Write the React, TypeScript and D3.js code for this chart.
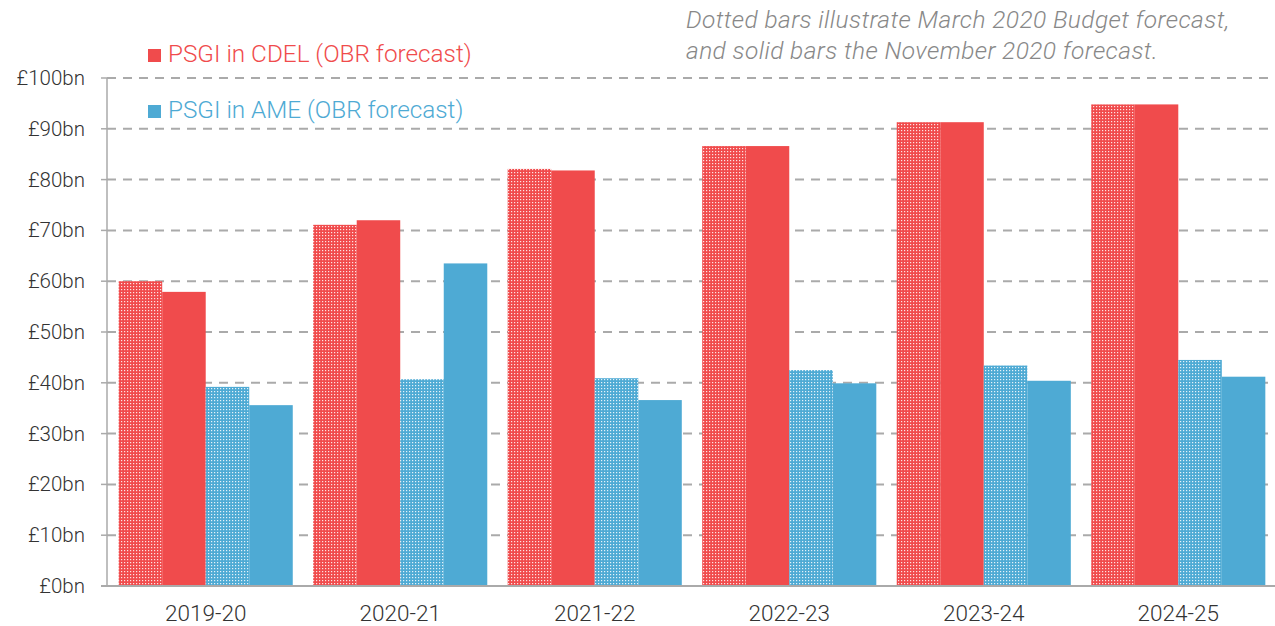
import React from 'react';
import * as d3 from 'd3';

const years = ['2019-20', '2020-21', '2021-22', '2022-23', '2023-24', '2024-25'];
const cdelMarch = [60.0, 71.1, 82.1, 86.6, 91.3, 94.8];
const cdelNov = [57.9, 72.0, 81.8, 86.6, 91.3, 94.8];
const ameMarch = [39.2, 40.7, 40.9, 42.5, 43.4, 44.5];
const ameNov = [35.6, 63.5, 36.6, 39.9, 40.4, 41.2];
const yTicks = [0, 10, 20, 30, 40, 50, 60, 70, 80, 90, 100];

const RED = '#f04b4c';
const BLUE = '#4eaad4';
const FONT = 'Roboto, "Noto Sans", sans-serif';

const W = 1275;
const H = 626;

const App: React.FC = () => {
  const x = d3.scaleBand<string>().domain(years).range([107, 1277]).paddingInner(0.105).paddingOuter(0.06);
  const y = d3.scaleLinear().domain([0, 100]).range([586, 78]);
  const sub = d3.scaleBand<string>().domain(['cm', 'cn', 'am', 'an']).range([0, x.bandwidth()]);

  const series = [
    { key: 'cm', values: cdelMarch, fill: 'url(#dotRed)' },
    { key: 'cn', values: cdelNov, fill: RED },
    { key: 'am', values: ameMarch, fill: 'url(#dotBlue)' },
    { key: 'an', values: ameNov, fill: BLUE },
  ];

  return (
    <svg width={W} height={H} style={{ position: 'absolute', left: 0, top: 0, background: '#fff' }}>
      <defs>
        <pattern id="dotRed" width={3} height={3} patternUnits="userSpaceOnUse">
          <rect width={3} height={3} fill={RED} />
          <rect x={1} y={1} width={1.2} height={1.2} fill="#fff" opacity={0.85} />
        </pattern>
        <pattern id="dotBlue" width={3} height={3} patternUnits="userSpaceOnUse">
          <rect width={3} height={3} fill={BLUE} />
          <rect x={1} y={1} width={1.2} height={1.2} fill="#fff" opacity={0.85} />
        </pattern>
      </defs>

      {/* gridlines */}
      {yTicks.filter(t => t > 0).map(t => (
        <line key={t} x1={107} x2={W} y1={y(t)} y2={y(t)} stroke="#aaa" strokeWidth={2} strokeDasharray="9,7" />
      ))}

      {/* bars */}
      {series.map(s =>
        years.map((yr, i) => (
          <rect
            key={s.key + yr}
            x={(x(yr) || 0) + (sub(s.key) || 0)}
            y={y(s.values[i])}
            width={sub.bandwidth()}
            height={y(0) - y(s.values[i])}
            fill={s.fill}
          />
        ))
      )}

      {/* axes */}
      <line x1={107} x2={107} y1={y(100)} y2={y(0)} stroke="#aaa" strokeWidth={1.5} />
      <line x1={101} x2={W} y1={y(0)} y2={y(0)} stroke="#aaa" strokeWidth={2} />
      {yTicks.map(t => (
        <g key={t}>
          <line x1={101} x2={107} y1={y(t)} y2={y(t)} stroke="#aaa" strokeWidth={1.5} />
          <text x={85} y={y(t) + 7} textAnchor="end" fontFamily={FONT} fontWeight={300} fontSize={20.5} fill="#333">
            {`£${t}bn`}
          </text>
        </g>
      ))}
      {years.map(yr => (
        <text key={yr} x={(x(yr) || 0) + x.bandwidth() / 2} y={621} textAnchor="middle" fontFamily={FONT} fontWeight={300} fontSize={22.5} fill="#333">
          {yr}
        </text>
      ))}

      {/* legend */}
      <rect x={148} y={49} width={13} height={13} fill={RED} />
      <text x={168} y={62} fontFamily={FONT} fontWeight={300} fontSize={24.3} fill={RED}>PSGI in CDEL (OBR forecast)</text>
      <rect x={148} y={105} width={13} height={13} fill={BLUE} />
      <text x={168} y={118} fontFamily={FONT} fontWeight={300} fontSize={24.3} fill={BLUE}>PSGI in AME (OBR forecast)</text>

      {/* note */}
      <text x={686} y={28} fontFamily={FONT} fontSize={24.5} fontWeight={300} fontStyle="italic" letterSpacing={0.4} fill="#888">
        Dotted bars illustrate March 2020 Budget forecast,
      </text>
      <text x={686} y={59} fontFamily={FONT} fontSize={24.5} fontWeight={300} fontStyle="italic" letterSpacing={0.4} fill="#888">
        and solid bars the November 2020 forecast.
      </text>
    </svg>
  );
};

export default App;
